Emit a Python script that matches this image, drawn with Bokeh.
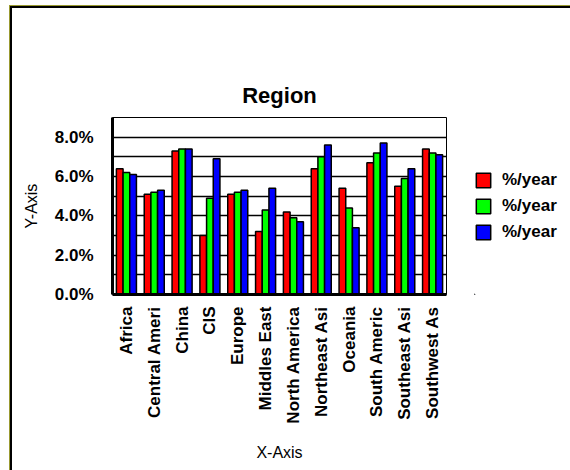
import math
from bokeh.plotting import figure
from bokeh.layouts import row
from bokeh.models import (ColumnDataSource, FactorRange, Range1d, FixedTicker,
                          PrintfTickFormatter, Legend, LegendItem)
from bokeh.transform import dodge
from bokeh.embed import file_html
from bokeh.resources import INLINE

categories = ["Africa", "Central Ameri", "China", "CIS", "Europe", "Middles East",
              "North America", "Northeast Asi", "Oceania", "South Americ",
              "Southeast Asi", "Southwest As"]
series_1 = [6.4, 5.1, 7.3, 3.0, 5.1, 3.2, 4.2, 6.4, 5.4, 6.7, 5.5, 7.4]
series_2 = [6.2, 5.2, 7.4, 4.9, 5.2, 4.3, 3.9, 7.0, 4.4, 7.2, 5.9, 7.2]
series_3 = [6.1, 5.3, 7.4, 6.9, 5.3, 5.4, 3.7, 7.6, 3.4, 7.7, 6.4, 7.1]
series_names = ["%/year", "%/year", "%/year"]
y_ticks = [0, 2, 4, 6, 8]
y_grid = [1, 2, 3, 4, 5, 6, 7, 8, 9]

FONT = "Liberation Sans"
colors = ["#ff0000", "#00ff00", "#0000ff"]

source = ColumnDataSource(dict(cat=categories, s1=series_1, s2=series_2, s3=series_3))

p = figure(width=456, height=470, output_backend="svg", toolbar_location=None,
           x_range=FactorRange(*categories, range_padding=0),
           y_range=Range1d(0, 9),
           min_border_left=112, min_border_right=10,
           min_border_top=117, min_border_bottom=176,
           title="Region")
p.border_fill_color = None
p.background_fill_color = "white"

p.title.align = "center"
p.title.text_font = FONT
p.title.text_font_size = "22px"
p.title.text_font_style = "bold"
p.title.text_color = "black"
p.title.standoff = 20

p.outline_line_color = "black"
p.outline_line_width = 1

w = 0.24
for i, (col, c) in enumerate(zip(["s1", "s2", "s3"], colors)):
    p.vbar(x=dodge("cat", (i - 1) * w, range=p.x_range), top=col, width=w,
           bottom=0, source=source, fill_color=c, line_color="black",
           line_width=1.5)

# grid
p.xgrid.grid_line_color = None
p.ygrid.ticker = FixedTicker(ticks=y_grid)
p.ygrid.grid_line_color = "black"
p.ygrid.grid_line_width = 1.3

# y axis
ya = p.yaxis[0]
ya.ticker = FixedTicker(ticks=y_ticks)
ya.formatter = PrintfTickFormatter(format="%.1f%%")
ya.major_tick_in = 0
ya.major_tick_out = 0
ya.minor_tick_in = 0
ya.minor_tick_out = 0
ya.axis_line_width = 3
ya.axis_line_color = "black"
ya.major_label_standoff = 19
ya.major_label_text_font = FONT
ya.major_label_text_font_size = "17px"
ya.major_label_text_font_style = "bold"
ya.major_label_text_color = "black"
ya.axis_label = "Y-Axis"
ya.axis_label_text_font = FONT
ya.axis_label_text_font_size = "16px"
ya.axis_label_text_font_style = "normal"
ya.axis_label_text_color = "black"
ya.axis_label_standoff = 12

# x axis
xa = p.xaxis[0]
xa.major_label_orientation = math.pi / 2
xa.major_tick_in = 0
xa.major_tick_out = 0
xa.axis_line_width = 3
xa.axis_line_color = "black"
xa.major_label_standoff = 12
xa.major_label_text_font = FONT
xa.major_label_text_font_size = "17px"
xa.major_label_text_font_style = "bold"
xa.major_label_text_color = "black"
xa.axis_label = "X-Axis"
xa.axis_label_text_font = FONT
xa.axis_label_text_font_size = "16px"
xa.axis_label_text_font_style = "normal"
xa.axis_label_text_color = "black"
xa.axis_label_standoff = 17

# legend panel (separate figure to the right of the chart, frame aligned with chart)
lf = figure(width=114, height=470, output_backend="svg", toolbar_location=None,
            min_border_left=18, min_border_right=0,
            min_border_top=117, min_border_bottom=176,
            x_range=Range1d(100, 200), y_range=Range1d(100, 200),
            x_axis_type=None, y_axis_type=None)
lf.border_fill_color = None
lf.background_fill_color = None
lf.outline_line_color = None
lf.xgrid.visible = False
lf.ygrid.visible = False
# legend swatches: one off-screen sample of each series (the ranges hide it)
swatch_src = ColumnDataSource(dict(x=[0.5], s1=[series_1[0]], s2=[series_2[0]], s3=[series_3[0]]))
legend_renderers = [lf.vbar(x="x", top=col, bottom=0, width=w, source=swatch_src,
                            fill_color=c, line_color="black", line_width=1.5)
                    for col, c in zip(["s1", "s2", "s3"], colors)]

legend = Legend(items=[LegendItem(label=n, renderers=[r])
                       for n, r in zip(series_names, legend_renderers)],
                location="left")
legend.padding = 0
legend.margin = 0
legend.spacing = 6
legend.glyph_width = 18
legend.glyph_height = 18
legend.label_height = 18
legend.label_standoff = 10
legend.border_line_color = None
legend.background_fill_color = None
legend.label_text_font = FONT
legend.label_text_font_size = "17px"
legend.label_text_font_style = "bold"
legend.label_text_color = "black"
lf.add_layout(legend, "center")

layout = row(p, lf, spacing=0)
layout.styles = {
    "background":
        "linear-gradient(#9a9a30,#9a9a30) 9px 5px / 561px 1px no-repeat,"
        "linear-gradient(#000,#000) 10px 6px / 560px 2px no-repeat,"
        "linear-gradient(#9a9a30,#9a9a30) 9px 5px / 1px 465px no-repeat,"
        "linear-gradient(#000,#000) 10px 6px / 2px 464px no-repeat,"
        "white"
}

open("out.html", "w").write(file_html(layout, INLINE))
